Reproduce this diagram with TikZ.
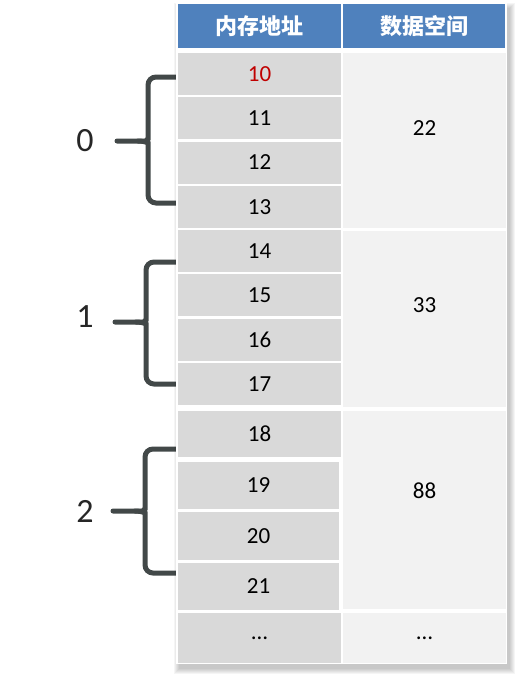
\documentclass[tikz,border=0pt]{standalone}
\usepackage{fontspec}
\setmainfont{Carlito}
\newfontfamily\cjkfont{Noto Sans CJK SC}
\usetikzlibrary{positioning,calc}
\definecolor{HeadBlue}{RGB}{79,129,189}
\definecolor{AddrGray}{RGB}{217,217,217}
\definecolor{DataGray}{RGB}{242,242,242}
\definecolor{BraceGray}{RGB}{66,72,72}
\definecolor{FirstRed}{RGB}{192,0,0}

\begin{document}
\begin{tikzpicture}[x=1pt, y=-1pt, every node/.style={align=center}]
\tikzset{
  headbox/.style={fill=HeadBlue, text=white, font=\cjkfont\bfseries\fontsize{22}{24}\selectfont, minimum height=44pt, inner sep=0pt},
  addrbox/.style={fill=AddrGray, minimum width=163pt, inner sep=0pt, font=\fontsize{23}{25}\selectfont},
  databox/.style={fill=DataGray, minimum width=163pt, inner sep=0pt},
  numtext/.style={font=\fontsize{23}{25}\selectfont, inner sep=0pt},
  brc/.style={line width=5pt, BraceGray, rounded corners=8pt, line cap=round},
  grouplabel/.style={font=\fontsize{34}{38}\selectfont, text=black!85}
}
  \useasboundingbox (0,0) rectangle (519,680);

  % braces and group numbers
  \node[grouplabel] (g0) at (85,141) {0};
  \node[grouplabel] (g1) at (85,317) {1};
  \node[grouplabel] (g2) at (85,511) {2};
  \draw[brc] (182,77) -- (148,77) -- (148,131) .. controls (148,139) and (145,141) .. (138,141) -- (117,141);
  \draw[brc] (138,141) .. controls (145,141) and (148,143) .. (148,151) -- (148,203) -- (182,203);
  \draw[brc] (182,262) -- (146,262) -- (146,312) .. controls (146,320) and (143,322) .. (136,322) -- (115,322);
  \draw[brc] (136,322) .. controls (143,322) and (146,324) .. (146,332) -- (146,384) -- (182,384);
  \draw[brc] (182,449) -- (145,449) -- (145,501) .. controls (145,509) and (142,511) .. (135,511) -- (113,511);
  \draw[brc] (135,511) .. controls (142,511) and (145,513) .. (145,521) -- (145,573) -- (182,573);

  % table frame with soft shadow
  \foreach \s in {0,...,5}
    \fill[black, opacity=.04] (179-\s,8-\s) rectangle (510+\s,669+\s);
  \fill[white] (176,3) rectangle (507,664);

  % header
  \node[headbox, minimum width=163pt] (hAddr) at (259.5,26) {内存地址};
  \node[headbox, minimum width=162pt] (hData) at (424,26) {数据空间};

  % address column
  \node[addrbox, minimum height=42pt, text=FirstRed] (a10) at (259.5,74) {10};
  \foreach \n [count=\i] in {11,...,17}
    \node[addrbox, minimum height=42pt] (a\n) at (259.5,74+44.25*\i) {\n};
  \node[addrbox, minimum height=46pt] (a18) at (259.5,434) {18};
  \node[addrbox, minimum height=47pt, minimum width=161pt] (a19) at (258.5,485.5) {19};
  \node[addrbox, minimum height=48pt, minimum width=161pt] (a20) at (258.5,536) {20};
  \node[addrbox, minimum height=47pt, minimum width=161pt] (a21) at (258.5,586.5) {21};
  \node[addrbox, minimum height=50pt] (aDots) at (259.5,638) {…};

  % data column
  \node[databox, minimum height=175pt] (d22) at (424.5,140.5) {};
  \node[databox, minimum height=176pt] (d33) at (424.5,319) {};
  \node[databox, minimum height=198pt] (d88) at (424.5,510) {};
  \node[databox, minimum height=50pt] (dDots) at (424.5,638) {};
  \node[numtext] (t22) at ([yshift=12pt]d22.center) {22};
  \node[numtext] (t33) at ([yshift=14pt]d33.center) {33};
  \node[numtext] (t88) at ([yshift=19pt]d88.center) {88};
  \node[numtext] (tDots) at (dDots.center) {…};
\end{tikzpicture}
\end{document}
